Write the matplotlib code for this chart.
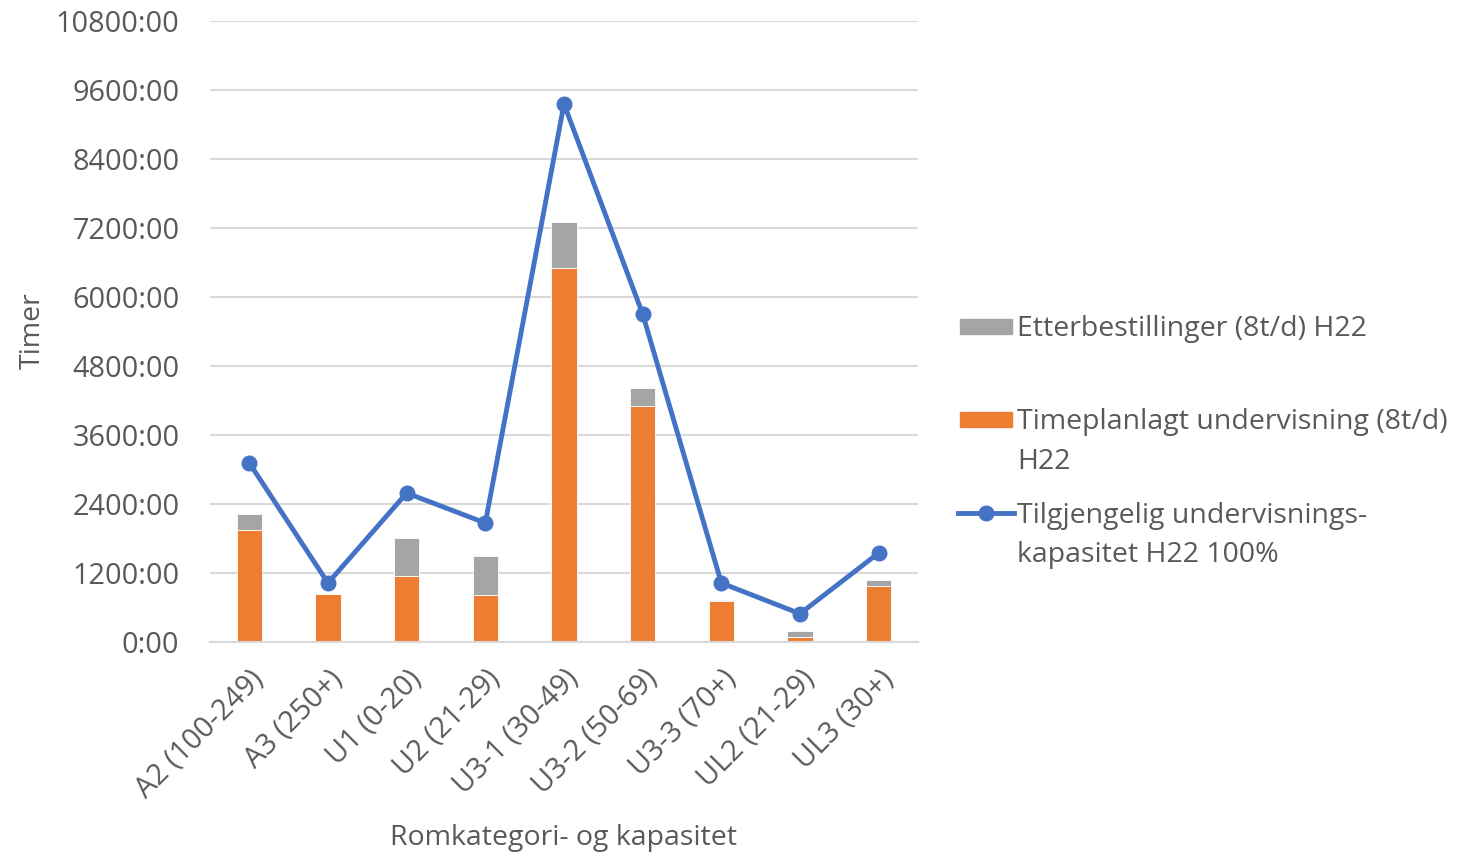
import matplotlib.pyplot as plt
from matplotlib.patches import Rectangle
from matplotlib.lines import Line2D
import numpy as np

plt.rcParams['font.family'] = ['Open Sans', 'DejaVu Sans']

# hours per room category
categories = ['A2 (100-249)', 'A3 (250+)', 'U1 (0-20)', 'U2 (21-29)', 'U3-1 (30-49)',
              'U3-2 (50-69)', 'U3-3 (70+)', 'UL2 (21-29)', 'UL3 (30+)']
timeplanlagt = [1948, 835, 1153, 817, 6497, 4097, 706, 80, 974]
etterbestillinger = [283, 8, 661, 672, 807, 320, 30, 116, 104]
kapasitet = [3113, 1026, 2591, 2070, 9357, 5704, 1026, 492, 1548]
y_ticks = list(range(0, 10801, 1200))

text_col = '#595959'
grid_col = '#d9d9d9'
orange = '#ED7D31'
gray = '#A5A5A5'
blue = '#4472C4'
W, H = 1471, 856

fig = plt.figure(figsize=(W / 100, H / 100), dpi=100)
ax = fig.add_axes([210 / W, 1 - 642 / H, 708 / W, 621 / H])

x = np.arange(len(categories))
w = 0.32
ax.bar(x, timeplanlagt, w, color=orange, edgecolor='white', linewidth=0.6, zorder=2)
ax.bar(x, etterbestillinger, w, bottom=timeplanlagt, color=gray, edgecolor='white',
       linewidth=0.6, zorder=2)
ax.plot(x, kapasitet, color=blue, linewidth=3.5, marker='o', markersize=10.5, zorder=3)

ax.set_xlim(-0.5, len(categories) - 0.5)
ax.set_ylim(0, 10800)
ax.set_yticks(y_ticks)
ax.set_yticklabels([f'{t}:00' for t in y_ticks])
ax.set_xticks(x)
ax.set_xticklabels(categories, rotation=45, ha='right', rotation_mode='anchor')
ax.tick_params(axis='both', length=0, labelsize=20.8, colors=text_col)
ax.tick_params(axis='y', pad=22)
ax.tick_params(axis='x', pad=16)
ax.grid(axis='y', color=grid_col, linewidth=1.5, zorder=0)
ax.set_axisbelow(True)
for s in ['top', 'right', 'left']:
    ax.spines[s].set_visible(False)
ax.spines['bottom'].set_color(grid_col)
ax.spines['bottom'].set_linewidth(1.5)

fig.text(33 / W, 1 - 331 / H, 'Timer', rotation=90, ha='center', va='center',
         fontsize=20.5, color=text_col)
fig.text(564 / W, 1 - 838 / H, 'Romkategori- og kapasitet', ha='center', va='center',
         fontsize=20.5, color=text_col)

# legend, Excel style: handle next to the first line of each entry
fs = 20.5
dy = 3  # text nudge so glyphs sit centred on the handle


def legend_text(ypx, s):
    fig.text(1017 / W, 1 - (ypx + dy) / H, s, va='center', fontsize=fs, color=text_col)


fig.patches.append(Rectangle((960 / W, 1 - 334 / H), 52 / W, 15 / H, color=gray,
                             transform=fig.transFigure, figure=fig))
legend_text(326, 'Etterbestillinger (8t/d) H22')
fig.patches.append(Rectangle((960 / W, 1 - 427 / H), 52 / W, 15 / H, color=orange,
                             transform=fig.transFigure, figure=fig))
legend_text(419, 'Timeplanlagt undervisning (8t/d)')
legend_text(459, 'H22')
fig.lines.append(Line2D([958 / W, 1014 / W], [1 - 513 / H, 1 - 513 / H], color=blue,
                        linewidth=3.5, transform=fig.transFigure, figure=fig))
fig.lines.append(Line2D([986 / W], [1 - 513 / H], color=blue, marker='o', markersize=10.5,
                        transform=fig.transFigure, figure=fig))
legend_text(513, 'Tilgjengelig undervisnings-')
legend_text(552, 'kapasitet H22 100%')

fig.savefig('out.png', dpi=100)
